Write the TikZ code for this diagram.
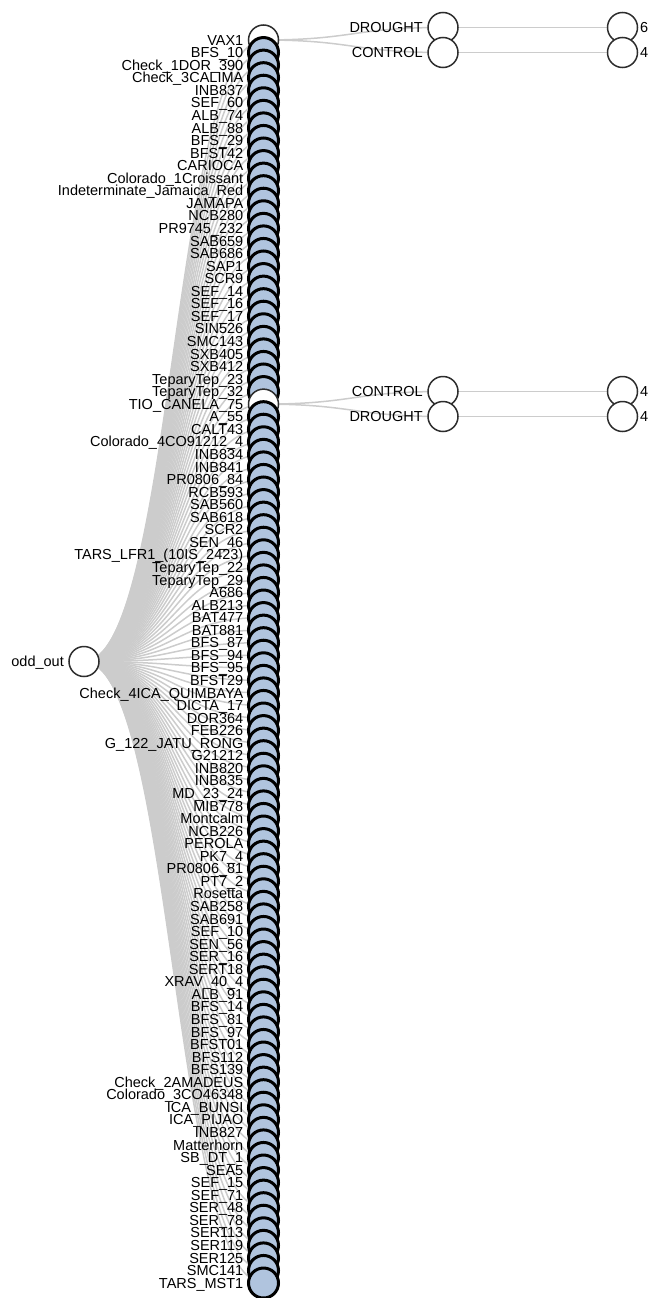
\documentclass[tikz,border=0pt]{standalone}
\usepackage{fontspec}
\setmainfont{Liberation Sans}
\usetikzlibrary{backgrounds}
\definecolor{linkgray}{HTML}{CCCCCC}
\definecolor{shutfill}{HTML}{B0C4DE}
\definecolor{ringdark}{HTML}{2D2D2D}

\begin{document}
\begin{tikzpicture}[
  x=1pt, y=-1pt,
  every node/.style={font=\fontsize{14.5}{14.5}\selectfont},
  opennode/.style={circle, draw=ringdark, line width=1.5pt, fill=white,
    minimum size=30pt, inner sep=0pt, outer sep=0pt},
  shutnode/.style={opennode, draw=black, line width=3pt, fill=shutfill},
  every label/.style={inner sep=0pt, text height=10.4pt, text depth=0pt},
  link/.style={draw=linkgray, line width=1.5pt},
]
\useasboundingbox (0,0) rectangle (651,1298);

% Root of the tree
\node[opennode, label={[label distance=5pt]left:odd\_out}] (oddout) at (84,661.5) {};

% Accessions — collapsed ones are filled, the two opened ones stay white
\foreach \name [count=\i] in {VAX1, BFS\_10, Check\_1DOR\_390, Check\_3CALIMA, INB837,
    SEF\_60, ALB\_74, ALB\_88, BFS\_29, BFST42, CARIOCA, Colorado\_1Croissant,
    Indeterminate\_Jamaica\_Red, JAMAPA, NCB280, PR9745\_232, SAB659, SAB686, SAP1,
    SCR9, SEF\_14, SEF\_16, SEF\_17, SIN526, SMC143, SXB405, SXB412, TeparyTep\_23,
    TeparyTep\_32, TIO\_CANELA\_75, A\_55, CALT43, Colorado\_4CO91212\_4, INB834,
    INB841, PR0806\_84, RCB593, SAB560, SAB618, SCR2, SEN\_46,
    {TARS\_LFR1\_(10IS\_2423)}, TeparyTep\_22, TeparyTep\_29, A686, ALB213, BAT477,
    BAT881, BFS\_87, BFS\_94, BFS\_95, BFST29, Check\_4ICA\_QUIMBAYA, DICTA\_17,
    DOR364, FEB226, G\_122\_JATU\_RONG, G21212, INB820, INB835, MD\_23\_24, MIB778,
    Montcalm, NCB226, PEROLA, PK7\_4, PR0806\_81, PT7\_2, Rosetta, SAB258, SAB691,
    SEF\_10, SEN\_56, SER\_16, SERT18, XRAV\_40\_4, ALB\_91, BFS\_14, BFS\_81, BFS\_97,
    BFST01, BFS112, BFS139, Check\_2AMADEUS, Colorado\_3CO46348, ICA\_BUNSI,
    ICA\_PIJAO, INB827, Matterhorn, SB\_DT\_1, SEA5, SEF\_15, SEF\_71, SER\_48, SER\_78,
    SER113, SER119, SER125, SMC141, TARS\_MST1} {
  \ifnum\i=1 \def\look{opennode}\else\ifnum\i=30 \def\look{opennode}\else\def\look{shutnode}\fi\fi
  \node[\look, label={[label distance=5pt]left:\name}] (acc\i) at (263.5,{40+(\i-1)*12.5556}) {};
}

% Treatments under VAX1
\node[opennode, label={[label distance=5pt]left:DROUGHT}] (vaxdrought) at (443,27.5) {};
\node[opennode, label={[label distance=2.5pt]right:6}] (vaxdroughtn) at (622.5,27.5) {};
\node[opennode, label={[label distance=5pt]left:CONTROL}] (vaxcontrol) at (443,52.5) {};
\node[opennode, label={[label distance=2.5pt]right:4}] (vaxcontroln) at (622.5,52.5) {};

% Treatments under TIO_CANELA_75
\node[opennode, label={[label distance=5pt]left:CONTROL}] (tiocontrol) at (443,391.5) {};
\node[opennode, label={[label distance=2.5pt]right:4}] (tiocontroln) at (622.5,391.5) {};
\node[opennode, label={[label distance=5pt]left:DROUGHT}] (tiodrought) at (443,416.5) {};
\node[opennode, label={[label distance=2.5pt]right:4}] (tiodroughtn) at (622.5,416.5) {};

% Links go underneath everything
\begin{scope}[on background layer]
  \foreach \i in {1,...,100}
    \draw[link] (oddout.center) .. controls +(89.75,0) and +(-89.75,0) .. (acc\i.center);
  \foreach \kid in {vaxdrought,vaxcontrol}
    \draw[link] (acc1.center) .. controls +(89.75,0) and +(-89.75,0) .. (\kid.center);
  \foreach \kid in {tiocontrol,tiodrought}
    \draw[link] (acc30.center) .. controls +(89.75,0) and +(-89.75,0) .. (\kid.center);
  \draw[link] (vaxdrought) -- (vaxdroughtn);
  \draw[link] (vaxcontrol) -- (vaxcontroln);
  \draw[link] (tiocontrol) -- (tiocontroln);
  \draw[link] (tiodrought) -- (tiodroughtn);
\end{scope}

\end{tikzpicture}
\end{document}
